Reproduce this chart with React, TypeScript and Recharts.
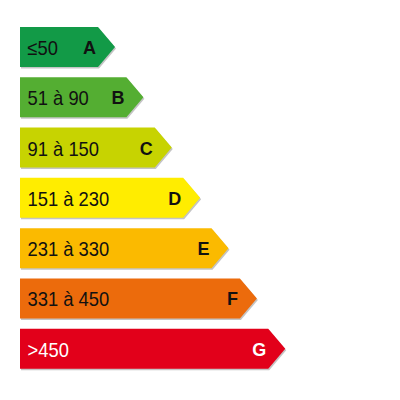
import React from 'react';
import { BarChart, Bar, XAxis, YAxis, Cell } from 'recharts';

const classes = ['A', 'B', 'C', 'D', 'E', 'F', 'G'];
const ranges = ['≤50', '51 à 90', '91 à 150', '151 à 230', '231 à 330', '331 à 450', '>450'];
const ranks = [1, 2, 3, 4, 5, 6, 7];
const COLORS = ['#129a47', '#54ae32', '#c7d301', '#ffed00', '#fbba00', '#ec6b0c', '#e2001a'];
const TEXT = ['#111', '#111', '#111', '#111', '#111', '#111', '#fff'];

const AXIS_MIN = -1.75;
const AXIS_MAX = 9;

const data = classes.map((c, i) => ({ cls: c, range: ranges[i], rank: ranks[i] }));

const FONT = 'Liberation Sans, Arial, sans-serif';

const Arrow = (props: any) => {
  const { x, y, width, height, fill, index } = props;
  const tip = 17;
  const r = x + width;
  const mid = y + height / 2;
  const pts = (dx: number, dy: number) =>
    `${x + dx},${y + dy} ${r + dx},${y + dy} ${r + tip + dx},${mid + dy} ${r + dx},${y + height + dy} ${x + dx},${y + height + dy}`;
  const tx = x + 7.5;
  return (
    <g>
      <polygon points={pts(1, 1.5)} fill="#c4c4c4" />
      <polygon points={pts(0, 0)} fill={fill} />
      <text
        x={tx}
        y={mid + 8}
        fontSize={20}
        fill={TEXT[index]}
        fontFamily={FONT}
        transform={`translate(${tx} 0) scale(0.92 1) translate(${-tx} 0)`}
      >
        {data[index].range}
      </text>
      <text x={r - 2} y={mid + 7} fontSize={18} fontWeight="bold" textAnchor="end" fill={TEXT[index]} fontFamily={FONT}>
        {data[index].cls}
      </text>
    </g>
  );
};

export default function App() {
  return (
    <div style={{ position: 'absolute', left: 0, top: 0, width: 400, height: 400, background: '#fff' }}>
      <BarChart
        width={400}
        height={400}
        data={data}
        layout="vertical"
        margin={{ top: 22, right: 75, bottom: 26, left: 20 }}
        barCategoryGap={10}
      >
        <XAxis type="number" domain={[AXIS_MIN, AXIS_MAX]} hide />
        <YAxis type="category" dataKey="cls" hide width={0} />
        <Bar dataKey={(d: any) => [AXIS_MIN, d.rank]} barSize={40} shape={<Arrow />} isAnimationActive={false}>
          {data.map((d, i) => (
            <Cell key={d.cls} fill={COLORS[i]} />
          ))}
        </Bar>
      </BarChart>
    </div>
  );
}
